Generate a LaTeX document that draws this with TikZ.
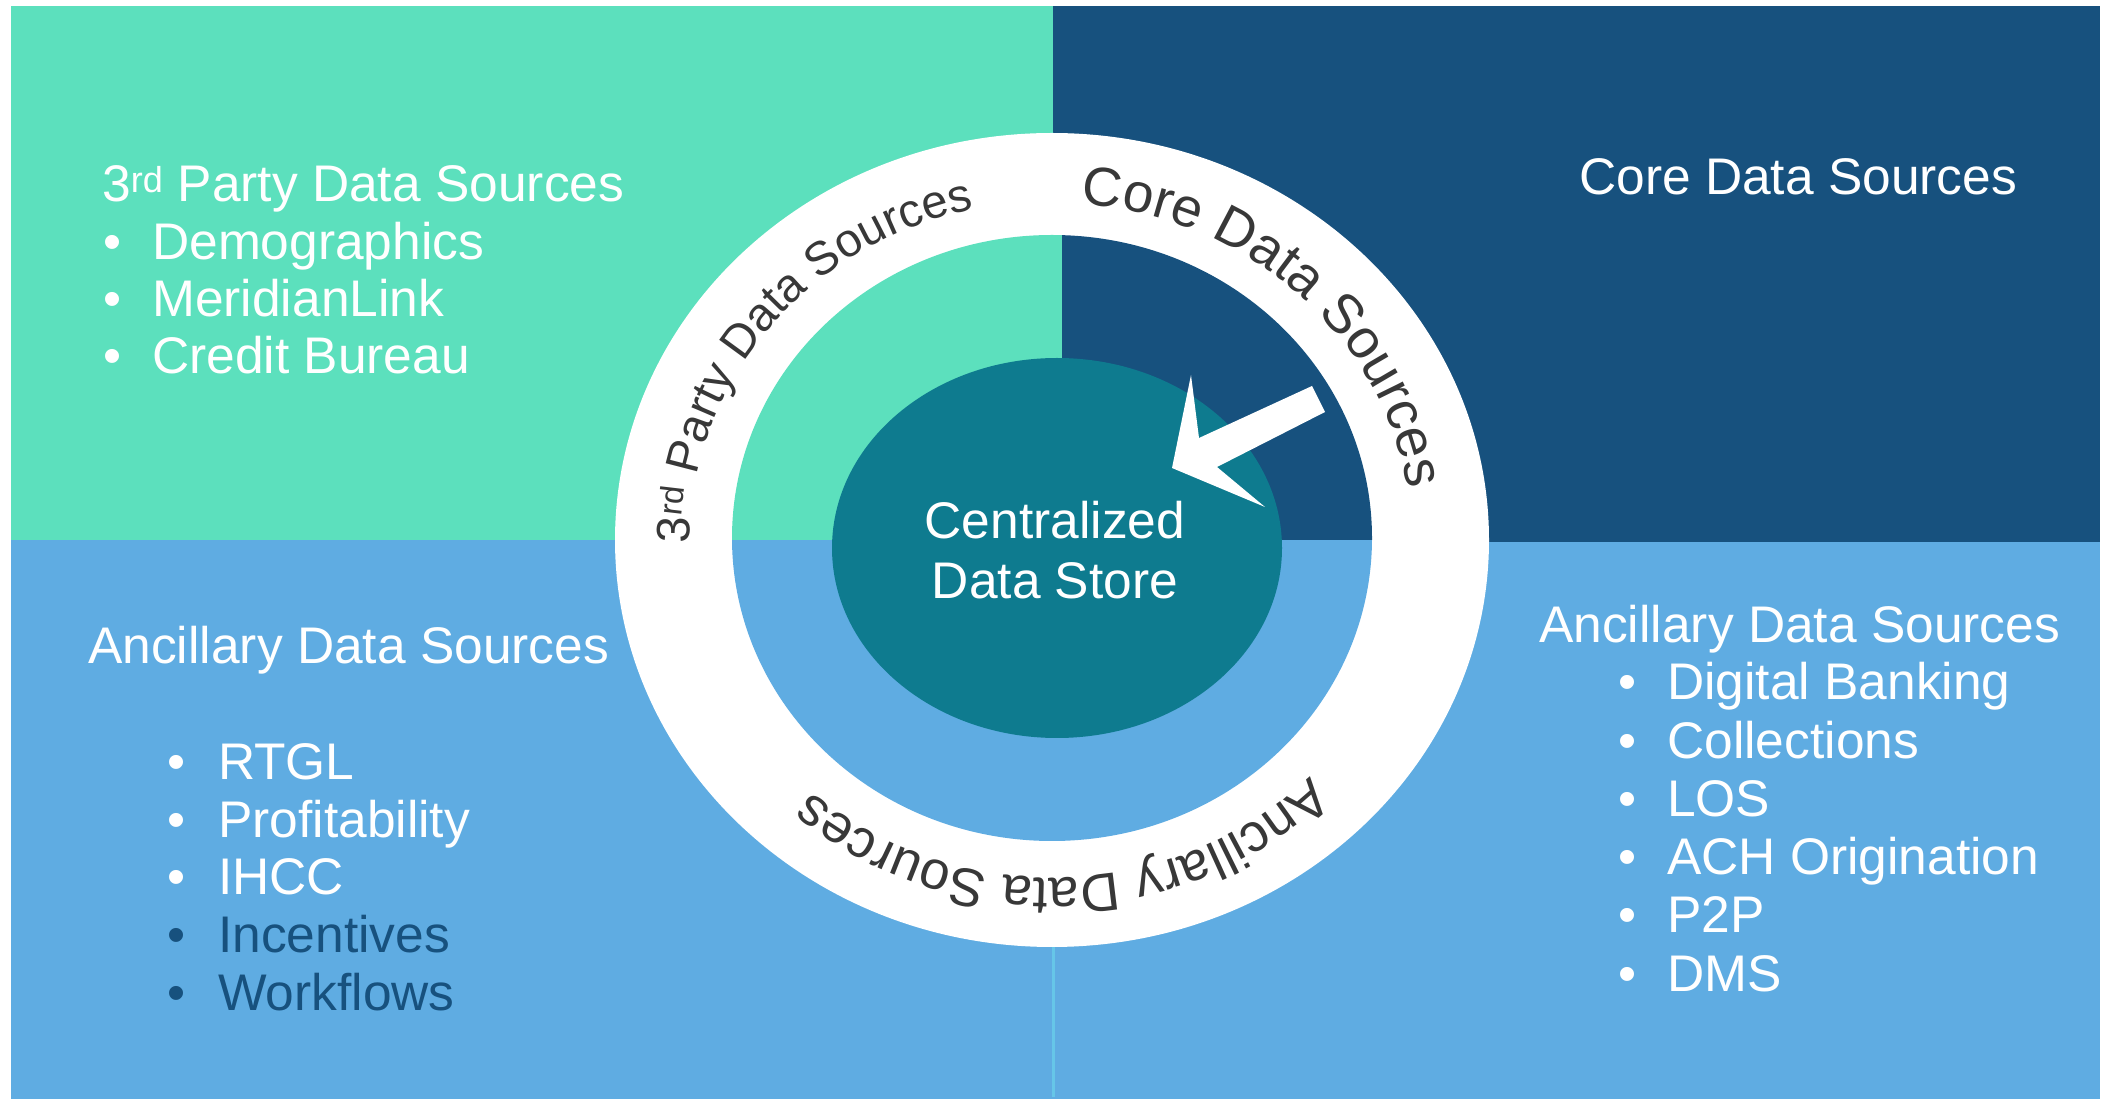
\documentclass[tikz,border=0pt]{standalone}
\usepackage{fontspec}
\setmainfont{Liberation Sans}
\usetikzlibrary{decorations.text}
\definecolor{mint}{HTML}{5CE0BD}
\definecolor{navy}{HTML}{17517E}
\definecolor{sky}{HTML}{5FACE2}
\definecolor{hubteal}{HTML}{0E7B8F}
\definecolor{ringtxt}{HTML}{383838}
\definecolor{seam}{HTML}{66C6E8}
\newcommand{\ringfont}[1]{\color{ringtxt}\fontsize{#1}{#1}\selectfont}
\begin{document}
\begin{tikzpicture}[x=1pt,y=1pt,
  lbl/.style={inner sep=0pt, anchor=base west, text=white, font=\fontsize{51.5}{60}\selectfont},
  dlbl/.style={lbl, text=navy},
  hubtxt/.style={lbl, anchor=base},
  ringlbl/.style={decorate, decoration={text along path, text align=center, text={#1}}}]
\useasboundingbox (0,0) rectangle (2113,1101);
\fill[white] (0,0) rectangle (2113,1101);
% quadrants
\fill[mint] (11,561) rectangle (1053,1095);
\fill[navy] (1053,559) rectangle (2100,1095);
\fill[sky] (11,2) rectangle (1053,561);
\fill[sky] (1053,2) rectangle (2100,559);
\draw[seam, line width=3] (1053,4) -- (1053,559);
% white ring
\fill[white] (1052,561) ellipse[x radius=437, y radius=407];
\begin{scope}
  \clip (1052,563) ellipse[x radius=320, y radius=303];
  \fill[mint] (700,561) rectangle (1062,900);
  \fill[navy] (1062,561) rectangle (1400,900);
  \fill[sky] (700,200) rectangle (1400,561);
\end{scope}
% hub
\fill[hubteal] (1057,553) ellipse[x radius=225, y radius=190];
\node[hubtxt] (hub1) at (1055,562) {Centralized};
\node[hubtxt] (hub2) at (1055,502) {Data Store};
% arrow
\fill[white] (1172,633) -- (1191,726) -- (1199,663) -- (1312,715) -- (1325,689) -- (1217,634) -- (1265,594) -- cycle;
% ring labels
\path[ringlbl={|\ringfont{47}|3{\textsuperscript{rd}} Party Data Sources}]
  (1052,561) ++(217.5:362 and 339) arc[start angle=217.5, end angle=67.5, x radius=362, y radius=339];
\path[ringlbl={|\ringfont{55}|Core Data Sources}]
  (1052,561) ++(121:360 and 337) arc[start angle=121, end angle=-29, x radius=360, y radius=337];
\path[ringlbl={|\ringfont{54}|Ancillary Data Sources}]
  (1052,561) ++(-13:361 and 338) arc[start angle=-13, end angle=-163, x radius=361, y radius=338];
% top-left
\node[lbl] (tlh) at (102,899) {3\textsuperscript{rd} Party Data Sources};
\foreach \t [count=\i from 0] in {Demographics, MeridianLink, Credit Bureau}{
  \node[lbl] (tlb\i) at (103,841-57*\i) {•};
  \node[lbl] (tli\i) at (152,841-57*\i) {\t};
}
% top-right
\node[lbl] (trh) at (1579,906) {Core Data Sources};
% bottom-left
\node[lbl] (blh) at (88,437) {Ancillary Data Sources};
\foreach \t [count=\i from 0] in {RTGL, Profitability, IHCC}{
  \node[lbl] (blb\i) at (167,321-57.5*\i) {•};
  \node[lbl] (bli\i) at (218,321-57.5*\i) {\t};
}
\node[dlbl] (blb3) at (167,148.5) {•};
\node[dlbl] (bli3) at (218,148.5) {Incentives};
\node[dlbl] (blb4) at (167,91) {•};
\node[dlbl] (bli4) at (218,91) {Workflows};
% bottom-right
\node[lbl] (brh) at (1539,458) {Ancillary Data Sources};
\foreach \t [count=\i from 0] in {Digital Banking, Collections, LOS, ACH Origination, P2P, DMS}{
  \node[lbl] (brb\i) at (1618,401-58.2*\i) {•};
  \node[lbl] (bri\i) at (1667,401-58.2*\i) {\t};
}
\end{tikzpicture}
\end{document}
